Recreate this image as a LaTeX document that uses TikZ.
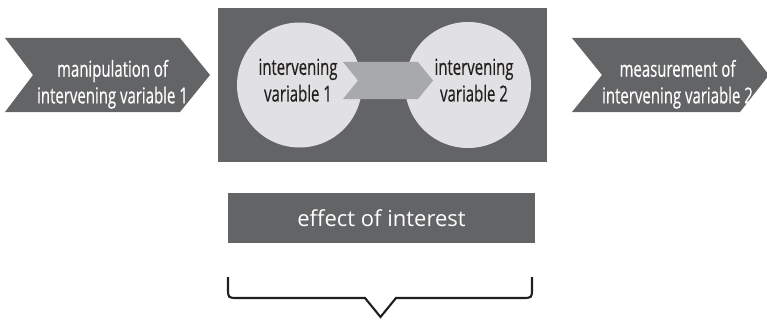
\documentclass[tikz,border=0pt]{standalone}
\usepackage{fontspec}
\setmainfont{Open Sans}
\newfontfamily\condf[FakeStretch=0.68,FakeBold=0.4]{Open Sans}
\definecolor{darkg}{RGB}{99,100,102}
\definecolor{lightg}{RGB}{225,225,227}
\definecolor{midg}{RGB}{167,169,172}
\definecolor{inkg}{RGB}{35,31,32}
\tikzset{
  condtext/.style={inner sep=0pt, align=center, font=\condf\fontsize{16.5}{20}\selectfont},
  whitetext/.style={condtext, text=white},
  circtext/.style={condtext, text=inkg},
}
\begin{document}
\begin{tikzpicture}[x=0.75pt,y=-0.75pt]
\useasboundingbox (0,0) rectangle (767,321);
% left chevron
\fill[darkg] (5,38) -- (180,38) -- (210,75) -- (180,112) -- (5,112) -- (33,75) -- cycle;
\node[whitetext] (manip) at (112.5,84.3) {manipulation of\\intervening variable 1};
% central frame
\node[fill=darkg, minimum width=246.75pt, minimum height=115.5pt, inner sep=0pt] (frame) at (382.5,85) {};
\fill[lightg] (299.5,85) circle (62.5);
\fill[lightg] (468,85) circle (63);
\fill[midg] (343,62) -- (418,62) -- (433,80.5) -- (418,99) -- (343,99) -- (358,80.5) -- cycle;
\node[circtext] (iv1) at (298,80.2) {intervening\\variable 1};
\node[circtext] (iv2) at (474,80.2) {intervening\\variable 2};
% right chevron
\fill[darkg] (572,38) -- (740,38) -- (769,75) -- (740,112) -- (572,112) -- (602,75) -- cycle;
\node[whitetext] (meas) at (677.5,84.3) {measurement of\\intervening variable 2};
% effect of interest
\node[fill=darkg, minimum width=230.25pt, minimum height=37.5pt, inner sep=0pt,
      text=white, font=\fontsize{16.5}{20}\selectfont] (effect) at (381.5,218) {effect of interest};
% brace
\draw[line width=1.6pt, inkg] (228,277) -- (228,288) .. controls (228,298) .. (238,298)
  -- (365,298) -- (380.5,317) -- (396,298) -- (522,298)
  .. controls (532,298) .. (532,288) -- (532,277);
\end{tikzpicture}
\end{document}
